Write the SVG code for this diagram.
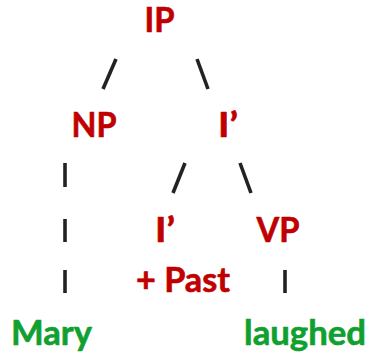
<svg xmlns="http://www.w3.org/2000/svg" width="367" height="356" viewBox="0 0 367 356">
<style>
text{font-family:Lato,"Open Sans","Liberation Sans",sans-serif;font-weight:bold;font-size:33.5px;text-anchor:middle;stroke-width:0.6;stroke-linejoin:round}
.cat{fill:#C00000;stroke:#C00000}
.word{fill:#10A030;stroke:#10A030}
.edge{stroke:#222222;stroke-width:3.6;stroke-linecap:butt;fill:none}
</style>
<rect width="367" height="356" fill="#ffffff"/>
<g id="connectors">
<line class="edge" x1="116" y1="59" x2="103" y2="89"/>
<line class="edge" x1="197" y1="59" x2="208" y2="89"/>
<line class="edge" x1="65" y1="163" x2="65" y2="187"/>
<line class="edge" x1="185" y1="163" x2="173" y2="193"/>
<line class="edge" x1="240" y1="163" x2="251" y2="193"/>
<line class="edge" x1="65" y1="219" x2="65" y2="242"/>
<line class="edge" x1="65" y1="270" x2="65" y2="293"/>
<line class="edge" x1="285" y1="270" x2="285" y2="293"/>
</g>
<g id="IP"><text class="cat" x="159.5" y="32" textLength="30" lengthAdjust="spacingAndGlyphs">IP</text></g>
<g id="NP"><text class="cat" x="94" y="137" textLength="45" lengthAdjust="spacingAndGlyphs">NP</text></g>
<g id="Ibar1"><text class="cat" x="228" y="137" textLength="20" lengthAdjust="spacingAndGlyphs">I’</text></g>
<g id="Ibar2"><text class="cat" x="165" y="242" textLength="20" lengthAdjust="spacingAndGlyphs">I’</text></g>
<g id="VP"><text class="cat" x="278" y="242" textLength="43" lengthAdjust="spacingAndGlyphs">VP</text></g>
<g id="Past"><text class="cat" x="183" y="292" textLength="94" lengthAdjust="spacingAndGlyphs">+ Past</text></g>
<g id="Mary"><text class="word" x="51.5" y="345" textLength="81" lengthAdjust="spacingAndGlyphs">Mary</text></g>
<g id="laughed"><text class="word" x="305" y="345" textLength="122" lengthAdjust="spacingAndGlyphs">laughed</text></g>
</svg>
